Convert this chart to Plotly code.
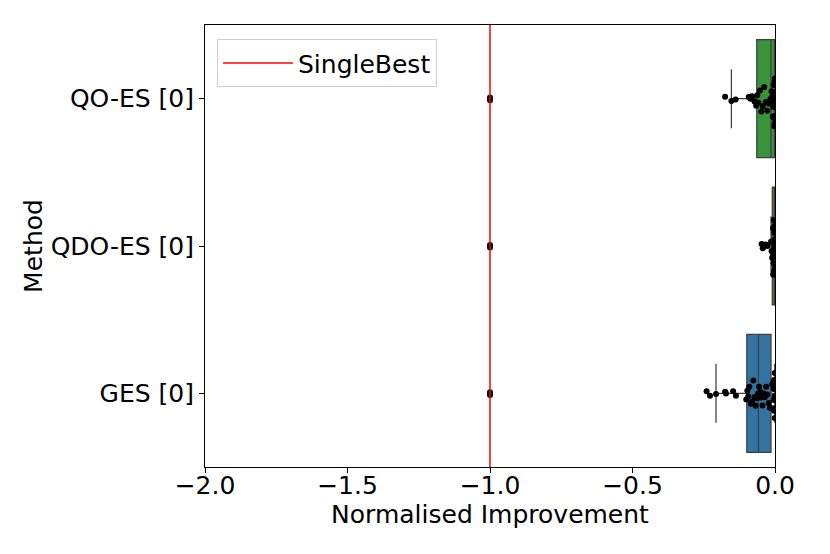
import plotly.graph_objects as go

# ---- data ----
methods = ["QO-ES [0]", "QDO-ES [0]", "GES [0]"]

qo_es = [-1.0, -1.0, -0.175, -0.153, -0.138, -0.092, -0.086, -0.080, -0.072, -0.066,
         -0.062, -0.058, -0.053, -0.048, -0.043, -0.038, -0.032, -0.027, -0.022, -0.016,
         -0.012, -0.010, -0.009, -0.008, -0.007, -0.006, -0.005, -0.004, -0.003, -0.002,
         -0.001, -0.001, -0.001, 0.0, 0.0, 0.0, 0.0, 0.0, 0.0, 0.0]

qdo_es = [-1.0, -1.0, -0.047, -0.043, -0.039, -0.033, -0.026, -0.014, -0.012, -0.010,
          -0.009, -0.008, -0.007, -0.006, -0.005, -0.004, -0.004, -0.003, -0.003, -0.002,
          -0.002, -0.001, -0.001, -0.001, -0.001, -0.001, 0.0, 0.0, 0.0, 0.0,
          0.0, 0.0, 0.0, 0.0, 0.0, 0.0, 0.0, 0.0, 0.0, 0.0]

ges = [-1.0, -1.0, -0.240, -0.228, -0.207, -0.175, -0.172, -0.147, -0.137, -0.101,
       -0.097, -0.094, -0.090, -0.085, -0.080, -0.076, -0.072, -0.068, -0.063, -0.060,
       -0.056, -0.052, -0.048, -0.044, -0.040, -0.036, -0.031, -0.027, -0.022, -0.018,
       -0.010, -0.007, -0.006, -0.005, -0.004, -0.003, -0.003, -0.002, -0.001, -0.001]

series = [qo_es, qdo_es, ges]
box_colors = ["#3a923a", "#e1812c", "#3274a1"]
single_best = -1.0
xtick_vals = [-2.0, -1.5, -1.0, -0.5, 0.0]
xtick_text = ["\u22122.0", "\u22121.5", "\u22121.0", "\u22120.5", "0.0"]

positions = [2, 1, 0]  # top to bottom

FONT = "DejaVu Sans"
FS = 25
fig = go.Figure()

# SingleBest reference line
fig.add_trace(go.Scatter(
    x=[single_best, single_best], y=[-0.5, 2.5], mode="lines",
    line=dict(color="red", width=1.5), name="SingleBest", showlegend=True,
))

for name, vals, col, pos in zip(methods, series, box_colors, positions):
    fig.add_trace(go.Box(
        x=vals, y0=pos, orientation="h", name=name, showlegend=False,
        boxpoints="all", jitter=0.5, pointpos=0, width=0.8, whiskerwidth=0.5,
        fillcolor=col, line=dict(color="#3f3f3f", width=1.25),
        marker=dict(color="black", size=6, line=dict(width=0)),
        hoverinfo="x",
    ))

fig.update_layout(
    width=822, height=546,
    margin=dict(l=197, r=55, t=17, b=87),
    paper_bgcolor="white", plot_bgcolor="white",
    font=dict(family=FONT, size=FS, color="black"),
    showlegend=True,
    legend=dict(x=0.021, y=0.968, xanchor="left", yanchor="top",
                bgcolor="rgba(255,255,255,0.8)", bordercolor="#d0d0d0", borderwidth=1,
                font=dict(size=FS), itemwidth=70),
    xaxis=dict(range=[-2.0, 0.0], tickvals=xtick_vals, ticktext=xtick_text,
               tickfont=dict(size=FS), ticklabelstandoff=-9,
               showline=True, linecolor="black", linewidth=1, mirror=True,
               ticks="outside", ticklen=5, tickcolor="black", showgrid=False, zeroline=False,
               title=dict(text="Normalised Improvement", standoff=4, font=dict(size=FS))),
    yaxis=dict(range=[-0.5, 2.5], tickvals=positions, ticktext=methods,
               tickfont=dict(size=FS),
               showline=True, linecolor="black", linewidth=1, mirror=True,
               ticks="outside", ticklen=5, tickcolor="black", showgrid=False, zeroline=False,
               title=dict(text="Method", standoff=0, font=dict(size=FS))),
)

fig.write_html("out.html")
